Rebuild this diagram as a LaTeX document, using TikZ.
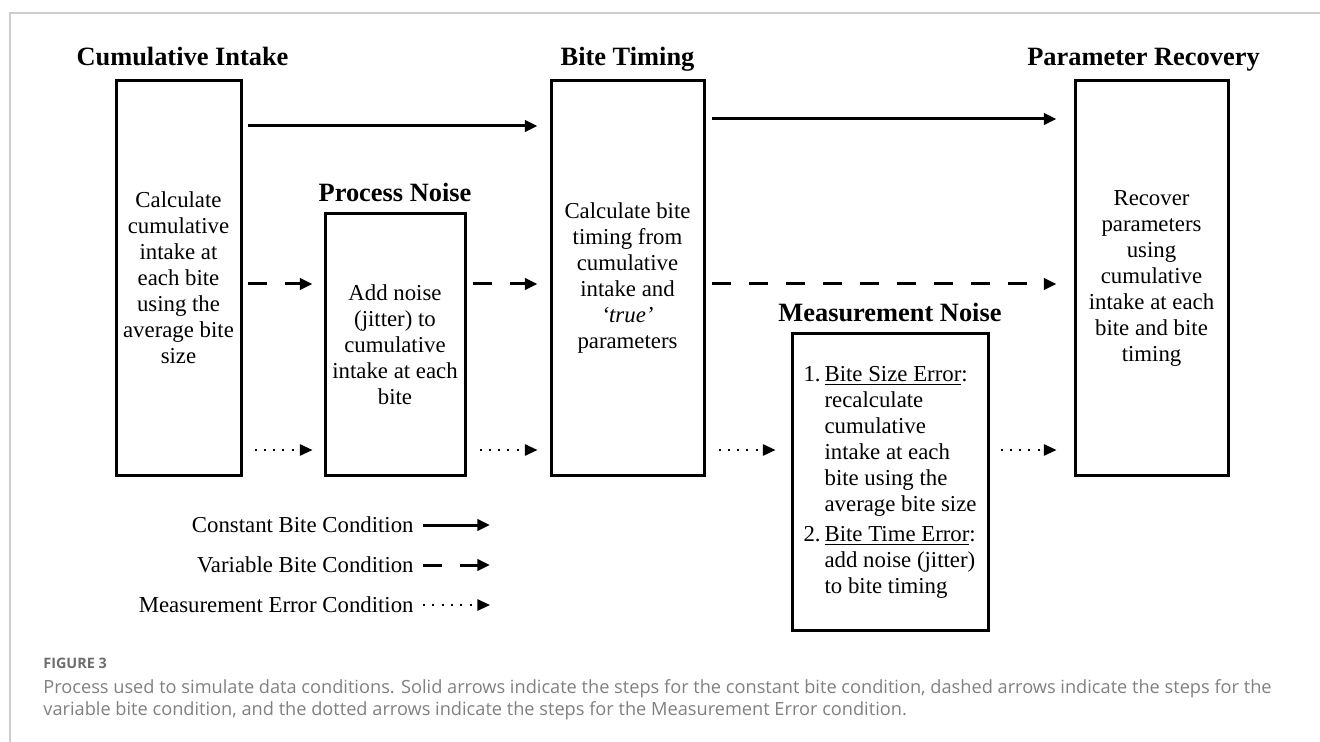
\documentclass[tikz,border=0pt]{standalone}
\usepackage{fontspec}
\setmainfont{Liberation Serif}
\newfontfamily\capfont{Open Sans}
\usepackage{tikz}
\usetikzlibrary{arrows.meta,positioning}
\definecolor{framegray}{HTML}{CCCCCC}
\definecolor{capgray}{HTML}{808080}
\newcommand{\bodysize}{\fontsize{11.4}{13}\selectfont}
\newcommand{\headsize}{\fontsize{13.2}{15}\selectfont\bfseries}

\begin{document}
\begin{tikzpicture}[x=0.5pt, y=-0.5pt,
    stage/.style={draw, line width=1.5pt, align=center, inner sep=0pt, font=\bodysize},
    heading/.style={font=\headsize, inner sep=0pt, text depth=0pt},
    legtext/.style={font=\bodysize, inner sep=0pt, anchor=east},
    solidarr/.style={line width=1.5pt, -{Triangle[length=6.3pt,width=5.6pt]}, shorten <=3pt, shorten >=6pt},
    dasharr/.style={solidarr, dash pattern=on 9.5pt off 9pt},
    dotarr/.style={solidarr, line width=1pt, dash pattern=on 1pt off 3.65pt, shorten <=6pt}]
    \useasboundingbox (0,0) rectangle (1320,742);
    \draw[framegray, line width=0.8pt] (10,742) -- (10,13) -- (1320,13);

    % stages
    \node[stage, minimum width=62.5pt, minimum height=197pt] (ci) at (178.5,278)
        {Calculate\\cumulative\\intake at\\each bite\\using the\\average bite\\size};
    \node[stage, minimum width=70pt, minimum height=130.5pt] (pn) at (395,344.5)
        {Add noise\\(jitter) to\\cumulative\\intake at each\\bite};
    \node[stage, minimum width=76.5pt, minimum height=197pt] (bt) at (627.5,278)
        {Calculate bite\\timing from\\cumulative\\intake and\\\textit{‘true’}\\parameters};
    \node[stage, minimum width=98pt, minimum height=148pt] (mn) at (890,482)
        {\begin{tabular}{@{}r@{\hspace{2pt}}l@{}}
         1. & \underline{Bite Size Error}: \\
            & recalculate \\
            & cumulative \\
            & intake at each \\
            & bite using the \\
            & average bite size \\[2pt]
         2. & \underline{Bite Time Error}: \\
            & add noise (jitter) \\
            & to bite timing
         \end{tabular}};
    \node[stage, minimum width=76.5pt, minimum height=197pt] (pr) at (1151.5,278)
        {Recover\\parameters\\using\\cumulative\\intake at each\\bite and bite\\timing};

    % headings
    \node[heading, above=7pt of ci, xshift=2pt] (cit) {Cumulative Intake};
    \node[heading, above=5.5pt of pn] (pnt) {Process Noise};
    \node[heading, above=7pt of bt] (btt) {Bite Timing};
    \node[heading, above=5.5pt of mn] (mnt) {Measurement Noise};
    \node[heading, above=7pt of pr, xshift=-4pt] (prt) {Parameter Recovery};

    % rows of the arrows
    \coordinate (solidA) at (0,126);
    \coordinate (solidB) at (0,119);
    \coordinate (dashrow) at (0,284);
    \coordinate (dotrow) at (0,450);

    \draw[solidarr, shorten <=2.5pt] (ci.east |- solidA) -- (bt.west |- solidA);
    \draw[solidarr, shorten >=8.5pt] (bt.east |- solidB) -- (pr.west |- solidB);

    \draw[dasharr, shorten <=2.5pt, shorten >=5.5pt] (ci.east |- dashrow) -- (pn.west |- dashrow);
    \draw[dasharr] (pn.east |- dashrow) -- (bt.west |- dashrow);
    \draw[dasharr, shorten >=8.5pt] (bt.east |- dashrow) -- (pr.west |- dashrow);

    \draw[dotarr, shorten >=5.5pt] (ci.east |- dotrow) -- (pn.west |- dotrow);
    \draw[dotarr, shorten <=6.5pt] (pn.east |- dotrow) -- (bt.west |- dotrow);
    \draw[dotarr, shorten <=6.5pt, shorten >=7.5pt] (bt.east |- dotrow) -- (mn.west |- dotrow);
    \draw[dotarr, shorten <=5.5pt, shorten >=8.5pt] (mn.east |- dotrow) -- (pr.west |- dotrow);

    % legend
    \node[legtext] (lgconst) at (414,525) {Constant Bite Condition};
    \node[legtext] (lgvar) at (414,565) {Variable Bite Condition};
    \node[legtext] (lgmeas) at (414,605) {Measurement Error Condition};
    \coordinate (lgconstend) at (490,525);
    \coordinate (lgvarend) at (490,565);
    \coordinate (lgmeasend) at (490,605);
    \draw[solidarr, shorten <=4.5pt, shorten >=0pt] (lgconst.east) -- (lgconstend);
    \draw[dasharr, shorten <=4.5pt, shorten >=0pt] (lgvar.east) -- (lgvarend);
    \draw[dotarr, shorten <=4.5pt, shorten >=0pt] (lgmeas.east) -- (lgmeasend);

    % caption
    \node[anchor=west, inner sep=0pt, text=capgray!85!black,
          font=\capfont\bfseries\fontsize{7.2}{9}\selectfont] (fignum) at (43,663) {FIGURE 3};
    \node[anchor=north west, inner sep=0pt, align=left, text=capgray,
          font=\capfont\fontsize{9.1}{11.2}\selectfont] (figcap) at (43,679)
        {Process used to simulate data conditions. Solid arrows indicate the steps for the constant bite condition, dashed arrows indicate the steps for the\\
         variable bite condition, and the dotted arrows indicate the steps for the Measurement Error condition.};
\end{tikzpicture}
\end{document}
